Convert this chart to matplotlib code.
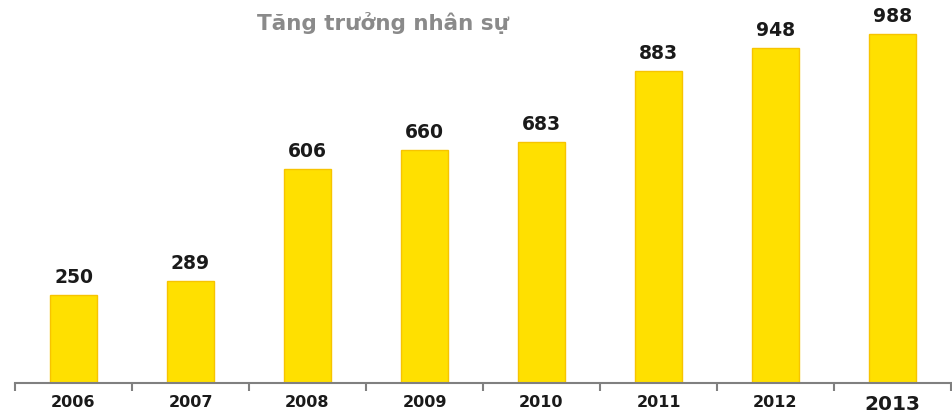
import matplotlib.pyplot as plt
import numpy as np

years = ['2006', '2007', '2008', '2009', '2010', '2011', '2012', '2013']
staff = [250, 289, 606, 660, 683, 883, 948, 988]

plt.rcParams['font.family'] = ['DejaVu Sans']

fig = plt.figure(figsize=(9.52, 4.14), dpi=100)
ax = fig.add_axes([15 / 952, 30 / 414, 936 / 952, 384 / 414])

x = np.arange(len(years))
ax.bar(x, staff, width=0.41, color='#FFE000', edgecolor='#F7C400', linewidth=1)

for xi, v in zip(x, staff):
    ax.text(xi, v + 26, str(v), ha='center', va='bottom', fontsize=13.5,
            fontweight='bold', color='#1a1a1a')

ax.set_xlim(-0.5, len(years) - 0.5)
ax.set_ylim(0, 1088)

ax.set_xticks(x)
ax.set_xticklabels(years, fontsize=11.5, fontweight='bold', color='#1a1a1a')
ax.get_xticklabels()[-1].set_fontsize(14.5)
ax.tick_params(axis='x', which='major', length=0, pad=8)
ax.set_xticks(np.arange(len(years) + 1) - 0.5, minor=True)
ax.tick_params(axis='x', which='minor', length=6, width=1.5, color='#808080', direction='out')
ax.set_yticks([])

for s in ['top', 'right', 'left']:
    ax.spines[s].set_visible(False)
ax.spines['bottom'].set_color('#808080')
ax.spines['bottom'].set_linewidth(1.5)

fig.text(383 / 952, 1 - 23 / 414, 'Tăng trưởng nhân sự', ha='center', va='center',
         fontsize=15.5, fontweight='bold', color='#8a8a8a')

fig.savefig('out.png', dpi=100)
